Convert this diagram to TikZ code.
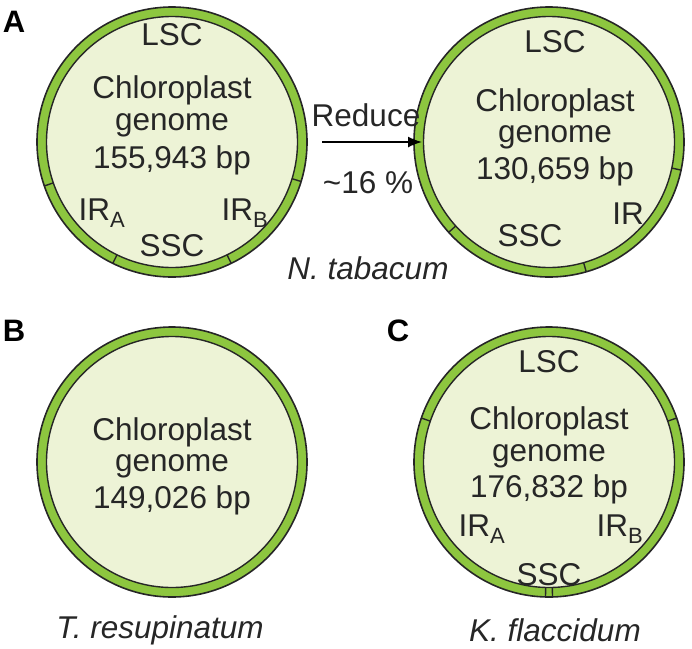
\documentclass[tikz,border=0pt]{standalone}
\usepackage{fontspec}
\usetikzlibrary{calc,arrows.meta}
\setmainfont{Liberation Sans}
\definecolor{ring}{HTML}{8DC63F}
\definecolor{pale}{HTML}{EDF3D6}
\begin{document}
\begin{tikzpicture}[x=1pt,y=-1pt,
  lab/.style={font=\fontsize{31.5}{34}\selectfont, text=black!85},
  itl/.style={font=\fontsize{31.5}{34}\selectfont\itshape, text=black!85},
  big/.style={font=\fontsize{31}{34}\selectfont\bfseries}]
\useasboundingbox (0,0) rectangle (692,648);
\newcommand{\genome}[3]{%
  \fill[ring,draw=black!85,line width=1.6] (#1,#2) circle (135);
  \fill[pale,draw=black!85,line width=1.4] (#1,#2) circle (125.5);
  \foreach \a in {#3} \draw[black!85,line width=1.4] ($(#1,#2)+(\a:125.5)$) -- ($(#1,#2)+(\a:135)$);}
\genome{172}{142}{161,17,116,64}
\genome{549}{142}{12,138,74}
\genome{172}{462}{}
\genome{549}{462}{199,341,88.5,91.5}
% A left
\node[lab] (l1) at (172,35) {LSC};
\node[lab] (l2) at (172,90) {Chloroplast};
\node[lab] (l3) at (172,125) {genome};
\node[lab] (l4) at (172,160) {155,943 bp};
\node[lab] (l5) at (102,213) {IR\textsubscript{A}};
\node[lab] (l6) at (245,213) {IR\textsubscript{B}};
\node[lab] (l7) at (172,246) {SSC};
% arrow
\node[lab] (rd) at (366,115) {Reduce};
\node[lab] (pc) at (368,183) {\textasciitilde16 \%};
\coordinate (a1) at (322,142); \coordinate (a2) at (422,142);
\draw[line width=1.6,-{Latex[length=14pt,width=11pt]}] (a1) -- (a2);
\node[itl] (nt) at (368,268) {N. tabacum};
% A right
\node[lab] (r1) at (555,42) {LSC};
\node[lab] (r2) at (555,103) {Chloroplast};
\node[lab] (r3) at (555,137) {genome};
\node[lab] (r4) at (555,171) {130,659 bp};
\node[lab] (r5) at (530,236) {SSC};
\node[lab] (r6) at (628,214) {IR};
% B
\node[lab] (b2) at (172,432) {Chloroplast};
\node[lab] (b3) at (172,466) {genome};
\node[lab] (b4) at (172,500) {149,026 bp};
\node[itl] (tr) at (160,630) {T. resupinatum};
% C
\node[lab] (c1) at (549,362) {LSC};
\node[lab] (c2) at (549,421) {Chloroplast};
\node[lab] (c3) at (549,456) {genome};
\node[lab] (c4) at (549,489) {176,832 bp};
\node[lab] (c5) at (482,529) {IR\textsubscript{A}};
\node[lab] (c6) at (620,529) {IR\textsubscript{B}};
\node[lab] (c7) at (549,575) {SSC};
\node[itl] (kf) at (555,630) {K. flaccidum};
% panel labels
\node[big] (pa) at (14,22) {A};
\node[big] (pb) at (14,331) {B};
\node[big] (pcc) at (398,331) {C};
\end{tikzpicture}
\end{document}
